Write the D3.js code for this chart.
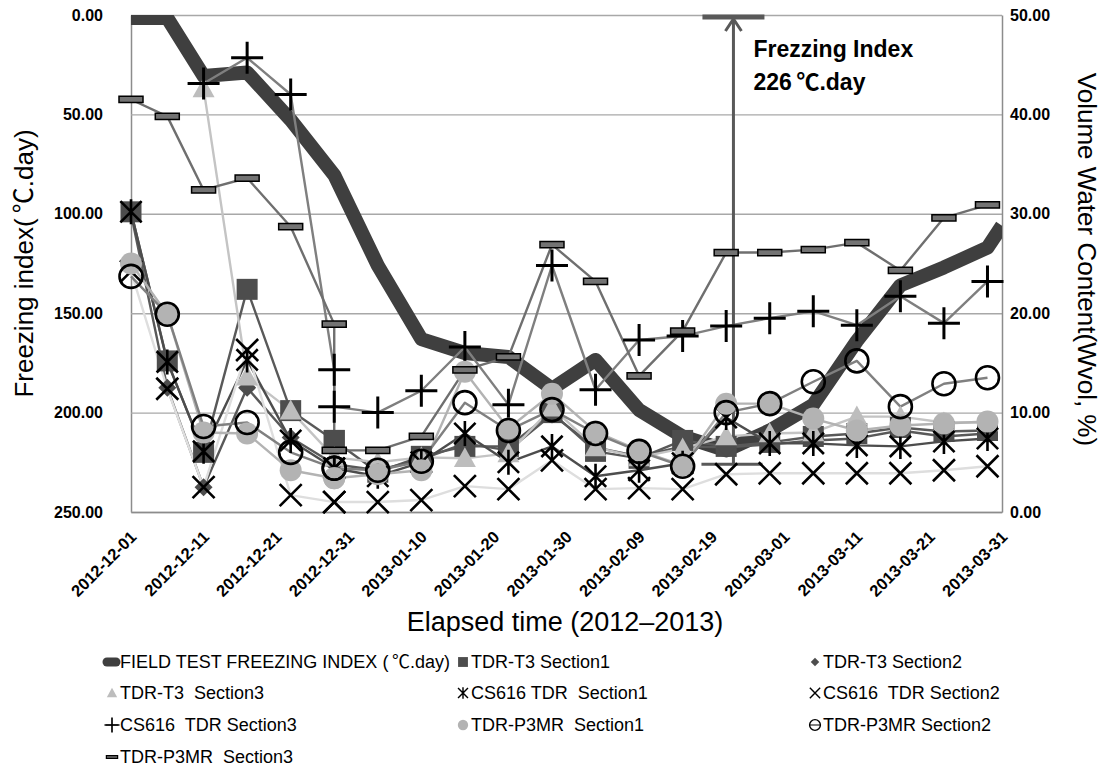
<!DOCTYPE html>
<html>
<head>
<meta charset="utf-8">
<script src="https://cdn.jsdelivr.net/npm/d3@7"></script>
<style>
  body { margin: 0; background: #fff; }
  svg text { font-family: "Liberation Sans", Arial, "Noto Sans CJK KR", sans-serif; }
  svg tspan.cjk { font-family: "Noto Sans CJK KR", sans-serif; }
</style>
</head>
<body>
<svg id="chart" width="1105" height="769"></svg>
<script>
// ---- data -------------------------------------------------------------
// sensor reading dates (two readings were logged on 2012-12-29)
const sampleDates = ["2012-12-01","2012-12-06","2012-12-11","2012-12-17","2012-12-23","2012-12-29","2012-12-29",
  "2013-01-04","2013-01-10","2013-01-16","2013-01-22","2013-01-28","2013-02-03","2013-02-09","2013-02-15",
  "2013-02-21","2013-02-27","2013-03-05","2013-03-11","2013-03-17","2013-03-23","2013-03-29"];

// field test freezing index (°C.day, left axis)
const freezeDates = ["2012-12-01","2012-12-06","2012-12-11","2012-12-17","2012-12-23","2012-12-29","2013-01-04",
  "2013-01-10","2013-01-16","2013-01-22","2013-01-28","2013-02-03","2013-02-09","2013-02-15","2013-02-21",
  "2013-02-27","2013-03-05","2013-03-11","2013-03-17","2013-03-23","2013-03-29","2013-03-31"];
const freezeIndex = [1.5, 1.5, 30.7, 28.9, 52.8, 80.5, 126, 163, 170, 172, 188, 173.5, 198.7, 212, 219, 209, 196, 164, 136, 127, 117, 106];

// volume water content (%, right axis)
const tdrT3Section1 = [30.2, 15.2, 6.0, 22.4, 10.2, 7.2, 7.2, 4.0, 5.6, 6.6, 6.6, 10.0, 6.1, 5.4, 7.2, 6.6, 7.0, 7.6, 7.9, 8.5, 8.1, 8.2];
const tdrT3Section2 = [30.0, 12.5, 2.5, 12.5, 7.5, 4.8, 4.8, 4.2, 5.3, 6.9, 6.2, 9.8, 6.5, 5.6, 6.6, 6.5, 6.8, 7.2, 7.4, 8.2, 7.6, 7.9];
const tdrT3Section3 = [null, null, 42.6, 13.6, 10.2, 5.5, 5.5, 5.0, 5.5, 5.4, 5.9, 10.5, 6.5, 5.5, 6.4, 7.6, 7.9, 8.0, 9.6, 9.6, 9.0, 9.0];
const cs616Section1 = [30.2, 15.1, 6.1, 15.3, 7.2, 4.4, 4.4, 3.6, 5.0, 7.9, 5.0, 6.6, 3.6, 4.2, 4.9, 9.5, 6.9, 6.9, 6.7, 6.6, 7.1, 7.4];
const cs616Section2 = [24.2, 12.4, 2.5, 16.3, 1.7, 1.0, 1.0, 1.0, 1.2, 2.6, 2.3, 5.2, 2.3, 2.4, 2.3, 3.8, 3.9, 3.9, 3.9, 3.9, 4.2, 4.6];
const cs616Section3 = [null, null, 43.1, 45.7, 42.0, 14.3, 10.6, 10.0, 12.2, 16.6, 10.8, 24.8, 12.3, 17.3, 17.7, 18.7, 19.5, 20.2, 18.8, 21.7, 19.0, 23.2];
const p3mrSection1  = [25.0, 19.9, 8.0, 7.9, 4.2, 3.4, 3.4, 3.8, 4.2, 14.1, 8.4, 11.9, 8.1, 6.2, 4.7, 10.9, 10.9, 9.4, 8.2, 8.7, 8.9, 9.1];
const p3mrSection2  = [23.7, 19.9, 8.6, 9.0, 6.0, 4.4, 4.4, 4.2, 5.1, 11.0, 8.2, 10.3, 7.9, 6.1, 4.6, 10.0, 10.9, 13.1, 15.2, 10.6, 12.9, 13.5];
const p3mrSection3  = [41.5, 39.8, 32.4, 33.6, 28.7, 18.9, 6.2, 6.2, 7.6, 14.3, 15.6, 26.9, 23.2, 13.7, 18.2, 26.1, 26.1, 26.4, 27.1, 24.3, 29.6, 30.9];

// axes
const tickDates = ["2012-12-01","2012-12-11","2012-12-21","2012-12-31","2013-01-10","2013-01-20","2013-01-30",
  "2013-02-09","2013-02-19","2013-03-01","2013-03-11","2013-03-21","2013-03-31"];
const freezeTicks = [0, 50, 100, 150, 200, 250];
const waterTicks = [0, 10, 20, 30, 40, 50];

// annotation: total freezing index
const freezingIndexTotal = 226;
const annotationDate = "2013-02-22";

// ---- layout -----------------------------------------------------------
const plot = { left: 131, right: 1002, top: 15, bottom: 512 };
const parse = d3.timeParse("%Y-%m-%d");
const svg = d3.select("#chart");

const x = d3.scaleTime()
  .domain([parse(tickDates[0]), parse(tickDates[tickDates.length - 1])])
  .range([plot.left, plot.right]);
const yFreeze = d3.scaleLinear().domain([0, 250]).range([plot.top, plot.bottom]);
const yWater = d3.scaleLinear().domain([0, 50]).range([plot.bottom, plot.top]);

const frameColor = "#8c8c8c";
const tickFont = { family: "'Liberation Sans', Arial, sans-serif", size: 16 };

// writes a label, setting the degree-Celsius sign in the CJK face with its full-width spacing
function setLabel(sel, label) {
  label.split(/(℃)/).forEach(part => {
    if (!part) return;
    const t = sel.append("tspan").text(part);
    if (part === "℃") t.attr("class", "cjk").attr("dx", "0.2em");
  });
  return sel;
}

// left axis with gridlines
const gLeft = svg.append("g").attr("transform", `translate(${plot.left},0)`)
  .call(d3.axisLeft(yFreeze).tickValues(freezeTicks).tickFormat(d3.format(".2f"))
    .tickSizeInner(-(plot.right - plot.left)).tickSizeOuter(0).tickPadding(28));
gLeft.select(".domain").attr("stroke", frameColor).attr("stroke-width", 1.5);
gLeft.selectAll(".tick line").attr("stroke", "#a8a8a8").attr("stroke-width", 1.4);
gLeft.selectAll("text").attr("font-family", tickFont.family).attr("font-size", tickFont.size)
  .attr("font-weight", "bold").attr("fill", "#000");

// right axis
const gRight = svg.append("g").attr("transform", `translate(${plot.right},0)`)
  .call(d3.axisRight(yWater).tickValues(waterTicks).tickFormat(d3.format(".2f"))
    .tickSize(0).tickPadding(8));
gRight.select(".domain").attr("stroke", frameColor).attr("stroke-width", 1.5);
gRight.selectAll("text").attr("font-family", tickFont.family).attr("font-size", tickFont.size)
  .attr("font-weight", "bold").attr("fill", "#000");

// bottom axis with rotated date labels
const gBottom = svg.append("g").attr("transform", `translate(0,${plot.bottom})`)
  .call(d3.axisBottom(x).tickValues(tickDates.map(parse)).tickFormat(d3.timeFormat("%Y-%m-%d"))
    .tickSize(0));
gBottom.select(".domain").attr("stroke", frameColor).attr("stroke-width", 1.5);
gBottom.selectAll("text")
  .attr("font-family", tickFont.family).attr("font-size", 16.5).attr("font-weight", "bold")
  .attr("fill", "#000").attr("text-anchor", "end")
  .attr("y", 0).attr("dy", "0.35em")
  .attr("transform", "translate(2,22) rotate(-45)");

// axis titles
setLabel(svg.append("text").attr("transform", `translate(33,${(plot.top + plot.bottom) / 2}) rotate(-90)`)
  .attr("text-anchor", "middle").attr("font-size", 26).attr("fill", "#000"), "Freezing index(℃.day)");
svg.append("text").attr("transform", `translate(1078,${(plot.top + plot.bottom) / 2 - 4}) rotate(90)`)
  .attr("text-anchor", "middle").attr("font-size", 26).attr("fill", "#000")
  .text("Volume Water Content(Wvol, %)");
svg.append("text").attr("x", 565).attr("y", 631)
  .attr("text-anchor", "middle").attr("font-size", 27).attr("fill", "#000")
  .text("Elapsed time (2012–2013)");

// ---- marker shapes ----------------------------------------------------
const shapes = {
  square: d3.symbolSquare,
  circle: d3.symbolCircle,
  diamond: { draw(c, s) { const r = Math.sqrt(s) / 2; c.moveTo(0, -r); c.lineTo(r, 0); c.lineTo(0, r); c.lineTo(-r, 0); c.closePath(); } },
  triangle: { draw(c, s) { const r = Math.sqrt(s) / 2; c.moveTo(0, -r); c.lineTo(r, r * 0.8); c.lineTo(-r, r * 0.8); c.closePath(); } },
  times: { draw(c, s) { const r = Math.sqrt(s) / 2; c.moveTo(-r, -r); c.lineTo(r, r); c.moveTo(-r, r); c.lineTo(r, -r); } },
  plus: { draw(c, s) { const r = Math.sqrt(s) / 2; c.moveTo(-r, 0); c.lineTo(r, 0); c.moveTo(0, -r); c.lineTo(0, r); } },
  star: { draw(c, s) { const r = Math.sqrt(s) / 2, a = r * 0.85; c.moveTo(-a, -a); c.lineTo(a, a); c.moveTo(-a, a); c.lineTo(a, -a); c.moveTo(0, -r); c.lineTo(0, r); } },
  dash: { draw(c, s) { const w = Math.sqrt(s) / 2, h = w * 0.26; c.rect(-w, -h, 2 * w, 2 * h); } }
};

const series = [
  { label: "TDR-T3 Section1",     values: tdrT3Section1, line: "#595959", shape: "square",   size: 21 * 21, fill: "#4d4d4d", stroke: "none", sw: 0, legendLine: false },
  { label: "TDR-T3 Section2",     values: tdrT3Section2, line: "#595959", shape: "diamond",  size: 18 * 18, fill: "#4d4d4d", stroke: "none", sw: 0, legendLine: false },
  { label: "TDR-T3  Section3",    values: tdrT3Section3, line: "#c4c4c4", shape: "triangle", size: 22 * 22, fill: "#bdbdbd", stroke: "none", sw: 0, legendLine: false },
  { label: "CS616 TDR  Section1", values: cs616Section1, line: "#4d4d4d", shape: "star",     size: 25 * 25, fill: "none", stroke: "#000", sw: 2.6, legendLine: false },
  { label: "CS616  TDR Section2", values: cs616Section2, line: "#dedede", shape: "times",    size: 22 * 22, fill: "none", stroke: "#000", sw: 2.6, legendLine: false },
  { label: "CS616  TDR Section3", values: cs616Section3, line: "#7f7f7f", shape: "plus",     size: 32 * 32, fill: "none", stroke: "#000", sw: 3, legendLine: true },
  { label: "TDR-P3MR  Section1",  values: p3mrSection1,  line: "#b3b3b3", shape: "circle",   size: Math.PI * 11 * 11, fill: "#b3b3b3", stroke: "none", sw: 0, legendLine: false },
  { label: "TDR-P3MR Section2",   values: p3mrSection2,  line: "#808080", shape: "circle",   size: Math.PI * 11.5 * 11.5, fill: "none", stroke: "#000", sw: 2.6, legendLine: true },
  { label: "TDR-P3MR  Section3",  values: p3mrSection3,  line: "#6f6f6f", shape: "dash",     size: 24 * 24, fill: "#737373", stroke: "#000", sw: 1.5, legendLine: true }
];
series.forEach(s => {
  s.points = s.values.map((v, i) => ({ date: parse(sampleDates[i]), v }));
});

// ---- plot -------------------------------------------------------------
svg.append("clipPath").attr("id", "plot-clip").append("rect")
  .attr("x", plot.left).attr("y", plot.top)
  .attr("width", plot.right - plot.left).attr("height", plot.bottom - plot.top);

const freezePoints = freezeIndex.map((v, i) => ({ date: parse(freezeDates[i]), v }));
svg.append("path").datum(freezePoints)
  .attr("clip-path", "url(#plot-clip)")
  .attr("fill", "none").attr("stroke", "#3f3f3f").attr("stroke-width", 14)
  .attr("stroke-linejoin", "round")
  .attr("d", d3.line().x(d => x(d.date)).y(d => yFreeze(d.v)));

const waterLine = d3.line().defined(d => d.v != null).x(d => x(d.date)).y(d => yWater(d.v));
svg.append("g").selectAll("path").data(series).join("path")
  .attr("fill", "none").attr("stroke", d => d.line).attr("stroke-width", 2.4)
  .attr("stroke-linejoin", "round")
  .attr("d", d => waterLine(d.points));

// freezing index annotation arrow
const ax = x(parse(annotationDate));
const yTop = yFreeze(0), yEnd = yFreeze(freezingIndexTotal);
const arrow = svg.append("g").attr("stroke", "#595959").attr("fill", "none");
arrow.append("line").attr("x1", ax).attr("x2", ax).attr("y1", yTop + 4).attr("y2", yEnd).attr("stroke-width", 3);
arrow.append("path").attr("d", `M${ax - 8},${yTop + 16}L${ax},${yTop + 4}L${ax + 8},${yTop + 16}`).attr("stroke-width", 3);
arrow.append("line").attr("x1", ax - 31).attr("x2", ax + 31).attr("y1", yTop + 2).attr("y2", yTop + 2).attr("stroke-width", 5);
arrow.append("line").attr("x1", ax - 32).attr("x2", ax + 29).attr("y1", yEnd).attr("y2", yEnd).attr("stroke-width", 3);
svg.append("text").attr("x", ax + 20).attr("y", 57).attr("font-size", 23).attr("font-weight", "bold")
  .attr("fill", "#000").text("Frezzing Index");
setLabel(svg.append("text").attr("x", ax + 20).attr("y", 90).attr("font-size", 23).attr("font-weight", "bold")
  .attr("fill", "#000"), `${freezingIndexTotal}℃.day`);

// markers
const markerLayer = svg.append("g");
series.forEach(s => {
  const sym = d3.symbol().type(shapes[s.shape]).size(s.size);
  markerLayer.append("g").selectAll("path").data(s.points.filter(d => d.v != null)).join("path")
    .attr("transform", d => `translate(${x(d.date)},${yWater(d.v)})`)
    .attr("d", sym)
    .attr("fill", s.fill).attr("stroke", s.stroke).attr("stroke-width", s.sw);
});

// ---- legend -----------------------------------------------------------
const legendItems = [{ label: "FIELD TEST FREEZING INDEX (℃.day)", freeze: true }].concat(series);
const colX = [112, 463, 815];
const rowY = [662, 693, 725, 757];
const legend = svg.append("g");
legendItems.forEach((item, i) => {
  const cx = colX[i % 3], cy = rowY[Math.floor(i / 3)];
  const g = legend.append("g").attr("transform", `translate(${cx},${cy})`);
  if (item.freeze) {
    g.append("line").attr("x1", -5).attr("x2", 4).attr("y1", 0).attr("y2", 0)
      .attr("stroke", "#3f3f3f").attr("stroke-width", 9).attr("stroke-linecap", "round");
  } else {
    if (item.legendLine) {
      g.append("line").attr("x1", -6).attr("x2", 6).attr("y1", 0).attr("y2", 0)
        .attr("stroke", item.line).attr("stroke-width", 2);
    }
    g.append("path").attr("d", d3.symbol().type(shapes[item.shape]).size(item.size * 0.22))
      .attr("fill", item.fill).attr("stroke", item.stroke).attr("stroke-width", item.sw ? Math.max(1.2, item.sw * 0.55) : 0);
  }
  setLabel(g.append("text").attr("x", 8).attr("dy", "0.35em").attr("font-size", 18).attr("fill", "#000")
    .style("white-space", "pre"), item.label);
});
</script>
</body>
</html>
